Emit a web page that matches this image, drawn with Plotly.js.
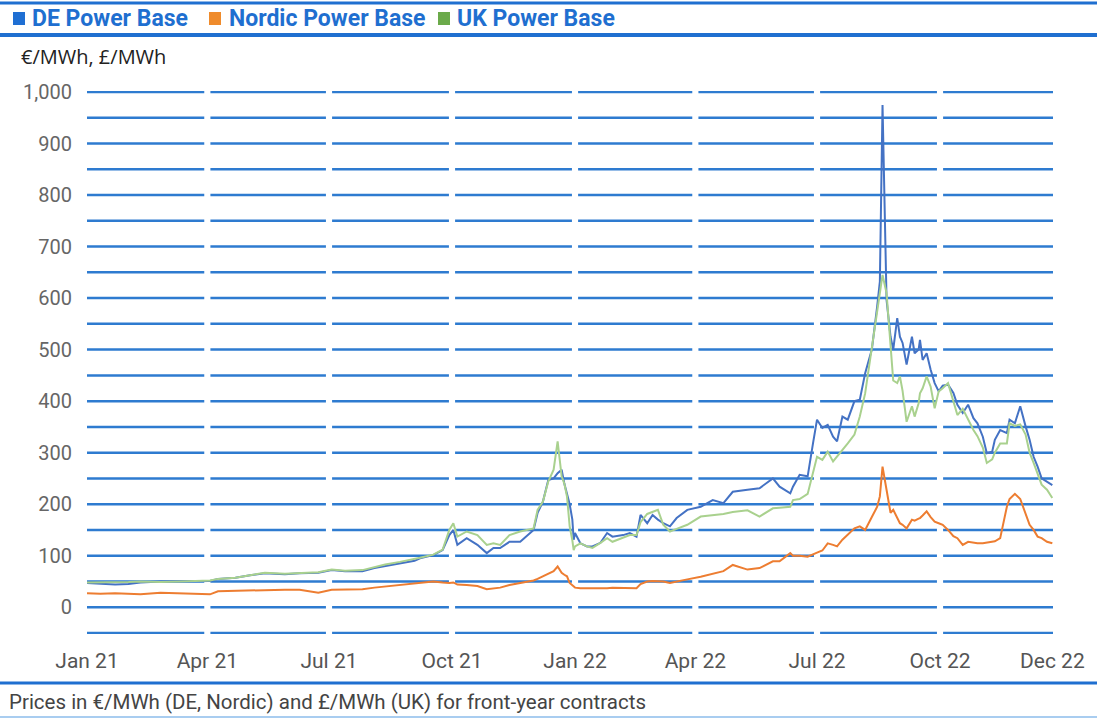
<!DOCTYPE html>
<html>
<head>
<meta charset="utf-8">
<script src="https://cdn.plot.ly/plotly-3.0.1.min.js"></script>
<style>
  html, body { margin: 0; padding: 0; background: #ffffff; }
  #chart { width: 1097px; height: 720px; }
</style>
</head>
<body>
<div id="chart"></div>
<script>
// ---------- DATA ----------
const dates = [
  '2021-01-01','2021-01-11','2021-01-22','2021-02-01','2021-02-10','2021-02-25','2021-03-12','2021-03-27',
  '2021-04-03','2021-04-09','2021-04-22','2021-05-03','2021-05-14','2021-05-29','2021-06-09','2021-06-23',
  '2021-07-03','2021-07-13','2021-07-26','2021-08-04','2021-08-12','2021-08-23','2021-09-03','2021-09-07',
  '2021-09-17','2021-09-24','2021-09-29','2021-10-02','2021-10-05','2021-10-12','2021-10-20','2021-10-27',
  '2021-11-01','2021-11-06','2021-11-13','2021-11-21','2021-12-01','2021-12-04','2021-12-08','2021-12-12',
  '2021-12-16','2021-12-19','2021-12-22','2021-12-24','2021-12-26','2021-12-28','2021-12-30','2021-12-31',
  '2022-01-01','2022-01-05','2022-01-10','2022-01-14','2022-01-20','2022-01-25','2022-01-29','2022-02-06',
  '2022-02-11','2022-02-16','2022-02-19','2022-02-24','2022-02-28','2022-03-04','2022-03-08','2022-03-13',
  '2022-03-18','2022-03-26','2022-04-05','2022-04-14','2022-04-22','2022-04-29','2022-05-10','2022-05-19',
  '2022-05-29','2022-06-03','2022-06-11','2022-06-13','2022-06-18','2022-06-24','2022-06-28','2022-07-01',
  '2022-07-05','2022-07-09','2022-07-13','2022-07-16','2022-07-20','2022-07-24','2022-07-29','2022-08-02',
  '2022-08-06','2022-08-11','2022-08-15','2022-08-17','2022-08-19','2022-08-22','2022-08-25','2022-08-27',
  '2022-08-30','2022-09-01','2022-09-03','2022-09-06','2022-09-10','2022-09-12','2022-09-15','2022-09-16',
  '2022-09-18','2022-09-21','2022-09-24','2022-09-27','2022-09-30','2022-10-03','2022-10-07','2022-10-11',
  '2022-10-14','2022-10-18','2022-10-22','2022-10-26','2022-10-29','2022-11-02','2022-11-05','2022-11-09',
  '2022-11-11','2022-11-15','2022-11-20','2022-11-22','2022-11-26','2022-11-30','2022-12-04','2022-12-07',
  '2022-12-10','2022-12-13','2022-12-16','2022-12-20','2022-12-24'
];

const deValues = [
  47,46,44,45,48,50,50,50,
  51,55,57,62,66,64,66,67,
  72,70,70,76,80,85,90,95,
  101,111,140,150,121,134,121,105,
  115,115,127,127,150,183,205,247,
  250,260,267,240,221,200,170,131,
  144,124,118,118,125,144,137,140,
  144,137,179,163,179,170,163,157,
  173,189,195,208,202,224,228,231,
  250,234,221,234,257,254,318,364,
  348,354,331,322,370,364,400,403,
  454,500,584,632,975,597,525,500,
  561,525,513,471,525,493,500,519,
  480,493,461,435,419,430,432,416,
  393,377,393,367,357,331,299,302,
  325,344,338,364,357,390,351,325,
  292,273,250,244,237
];

const nordicValues = [
  27,26,27,26,25,28,27,26,
  25,31,32,33,34,34,34,28,
  34,34,35,38,40,43,46,47,
  50,48,47,48,44,43,41,35,
  37,38,43,47,52,55,60,65,
  70,79,67,63,60,47,42,40,
  38,37,37,36,37,37,38,37,
  37,37,45,50,51,50,50,47,
  50,54,59,65,70,82,73,76,
  89,89,105,100,100,98,103,106,
  110,124,121,118,131,140,153,157,
  150,175,195,215,273,228,183,189,
  175,163,160,153,170,168,172,173,
  178,186,175,166,163,160,150,138,
  134,121,127,125,124,124,125,127,
  128,134,195,210,220,210,182,160,
  150,137,134,127,124
];

const ukValues = [
  48,48,48,49,50,49,50,51,
  52,55,57,62,67,65,66,68,
  73,71,72,78,83,88,93,96,
  102,112,150,163,137,147,140,121,
  124,121,140,147,153,189,205,244,
  267,322,254,240,215,157,130,111,
  118,124,118,115,125,134,127,135,
  140,140,165,181,185,189,160,147,
  152,160,176,179,181,185,188,176,
  192,193,195,208,210,220,262,292,
  286,302,283,292,305,318,335,370,
  415,500,570,603,645,610,500,440,
  435,448,420,360,390,370,396,415,
  425,448,428,386,419,425,435,400,
  373,385,364,344,332,310,280,287,
  300,318,318,357,352,355,335,300,
  280,260,238,228,212
];

const seriesNames = ['DE Power Base', 'Nordic Power Base', 'UK Power Base'];

const xTickVals = ['2021-01-01','2021-04-01','2021-07-01','2021-10-01','2022-01-01',
                   '2022-04-01','2022-07-01','2022-10-01','2022-12-24'];
const xTickText = ['Jan 21','Apr 21','Jul 21','Oct 21','Jan 22','Apr 22','Jul 22','Oct 22','Dec 22'];

const yTickVals = [-50,0,50,100,150,200,250,300,350,400,450,500,550,600,650,700,750,800,850,900,950,1000];
const yTickText = ['','0','','100','','200','','300','','400','','500','','600','','700','','800','','900','','1,000'];

const unitLabel = '€/MWh, £/MWh';
const footnote = 'Prices in €/MWh (DE, Nordic) and £/MWh (UK) for front-year contracts';

// ---------- STYLE ----------
const lineColors = ['#4472C4', '#ED7D31', '#A9D18E'];
const legendSquareColors = ['#1F6FD3', '#EF8B2C', '#6BAA4A'];
const frameBlue = '#1F6FD0';
const gridBlue = '#2E7BD0';

const W = 1097, H = 720;
const M = { l: 87, r: 44, t: 91, b: 86 };
const PW = W - M.l - M.r, PH = H - M.t - M.b;
const px = x => (x - M.l) / PW;          // container px -> paper x
const py = y => (H - M.b - y) / PH;      // container px -> paper y

const fontFamily = 'Roboto, "DejaVu Sans", sans-serif';
const xRange = ['2021-01-01', '2022-12-24 12:00'];

const traces = [
  { name: seriesNames[0], x: dates, y: deValues, mode: 'lines', type: 'scatter',
    line: { color: lineColors[0], width: 2 }, showlegend: false },
  { name: seriesNames[1], x: dates, y: nordicValues, mode: 'lines', type: 'scatter',
    line: { color: lineColors[1], width: 2 }, showlegend: false },
  { name: seriesNames[2], x: dates, y: ukValues, mode: 'lines', type: 'scatter',
    line: { color: lineColors[2], width: 2 }, showlegend: false }
];

// segmented horizontal grid: gaps at each interior x tick
const DAY = 86400000;
const toMs = s => new Date(s.replace(' ', 'T') + (s.length > 10 ? ':00Z' : 'T00:00:00Z')).getTime();
const toStr = ms => new Date(ms).toISOString().slice(0, 19).replace('T', ' ');
const gapHalf = 2.3 * DAY;
const bounds = [toMs(xRange[0])];
xTickVals.slice(1, -1).forEach(d => { bounds.push(toMs(d) - gapHalf, toMs(d) + gapHalf); });
bounds.push(toMs(xRange[1]));

const shapes = [];
yTickVals.forEach(v => {
  for (let i = 0; i < bounds.length; i += 2) {
    shapes.push({ type: 'line', xref: 'x', yref: 'y', x0: toStr(bounds[i]), x1: toStr(bounds[i + 1]),
      y0: v, y1: v, line: { color: gridBlue, width: 2.5 }, layer: 'below' });
  }
});

// frame lines
[[3, frameBlue, 3], [35, frameBlue, 4], [683, frameBlue, 3], [717, '#A9CDF0', 2]].forEach(([y, c, w]) => {
  shapes.push({ type: 'line', xref: 'paper', yref: 'paper', x0: px(0), x1: px(W), y0: py(y), y1: py(y),
    line: { color: c, width: w }, layer: 'above' });
});

// legend
const legendSquareX = [13, 209, 438];
const legendTextX = [30, 227, 455];
const annotations = [];
seriesNames.forEach((n, i) => {
  shapes.push({ type: 'rect', xref: 'paper', yref: 'paper',
    x0: px(legendSquareX[i]), x1: px(legendSquareX[i] + 12), y0: py(25), y1: py(12),
    fillcolor: legendSquareColors[i], line: { width: 0 }, layer: 'above' });
  annotations.push({ xref: 'paper', yref: 'paper', x: px(legendTextX[i]), y: py(18.5),
    xanchor: 'left', yanchor: 'middle', showarrow: false, text: '<b>' + n + '</b>',
    font: { family: fontFamily, size: 23, color: '#1F6FD0' } });
});

annotations.push({ xref: 'paper', yref: 'paper', x: px(19), y: py(57), xanchor: 'left', yanchor: 'middle',
  showarrow: false, text: unitLabel, font: { family: '"Open Sans", sans-serif', size: 20, color: '#222222' } });
annotations.push({ xref: 'paper', yref: 'paper', x: px(7), y: py(702), xanchor: 'left', yanchor: 'middle',
  showarrow: false, text: footnote, font: { family: fontFamily, size: 20.5, color: '#444444' } });

const layout = {
  width: W, height: H,
  margin: M,
  paper_bgcolor: '#ffffff', plot_bgcolor: '#ffffff',
  showlegend: false,
  xaxis: {
    type: 'date',
    range: xRange,
    tickmode: 'array', tickvals: xTickVals, ticktext: xTickText,
    showgrid: false, zeroline: false, showline: false, ticks: '',
    ticklabelstandoff: 12,
    tickfont: { family: fontFamily, size: 21, color: '#555555' }
  },
  yaxis: {
    range: [-52, 1002],
    tickmode: 'array', tickvals: yTickVals, ticktext: yTickText,
    showgrid: false, zeroline: false, showline: false, ticks: '',
    ticklabelstandoff: 14,
    tickfont: { family: fontFamily, size: 20, color: '#666666' }
  },
  shapes: shapes,
  annotations: annotations
};

Plotly.newPlot('chart', traces, layout, { displayModeBar: false, staticPlot: true });
</script>
</body>
</html>
